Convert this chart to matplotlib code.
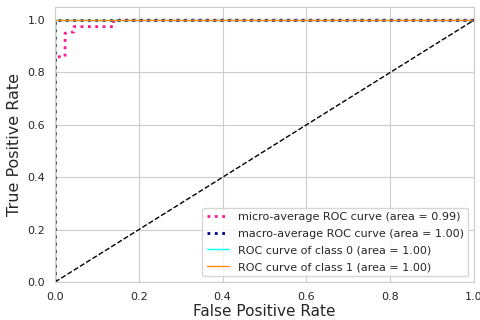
import matplotlib
matplotlib.use("Agg")
import matplotlib.pyplot as plt
import seaborn as sns

sns.set_style("whitegrid")
plt.rcParams['font.family'] = ['DejaVu Sans']

# micro-average ROC curve points
micro_fpr = [0.0, 0.0, 0.024, 0.024, 0.045, 0.045, 0.14, 0.14, 1.0]
micro_tpr = [0.0, 0.86, 0.86, 0.95, 0.955, 0.975, 0.975, 1.0, 1.0]
micro_auc = 0.99

macro_fpr = [0.0, 0.0, 1.0]
macro_tpr = [0.0, 1.0, 1.0]
macro_auc = 1.00

class_fpr = [[0.0, 0.0, 1.0], [0.0, 0.0, 1.0]]
class_tpr = [[0.0, 1.0, 1.0], [0.0, 1.0, 1.0]]
class_auc = [1.00, 1.00]
class_colors = ['aqua', 'darkorange']

fig = plt.figure(figsize=(4.8, 3.2), dpi=100)
ax = fig.add_axes([55/480, 38/320, 419/480, 275/320])

ax.plot(micro_fpr, micro_tpr, color='deeppink', linestyle=':', linewidth=2,
        label='micro-average ROC curve (area = {0:0.2f})'.format(micro_auc))
ax.plot(macro_fpr, macro_tpr, color='navy', linestyle=':', linewidth=2,
        label='macro-average ROC curve (area = {0:0.2f})'.format(macro_auc))
for i in range(2):
    ax.plot(class_fpr[i], class_tpr[i], color=class_colors[i], linewidth=1,
            label='ROC curve of class {0} (area = {1:0.2f})'.format(i, class_auc[i]))
ax.plot([0, 1], [0, 1], 'k--', linewidth=1)

ax.set_xlim([0.0, 1.0])
ax.set_ylim([0.0, 1.05])
ax.tick_params(labelsize=8)
ax.set_xlabel('False Positive Rate', fontsize=11, labelpad=2)
ax.set_ylabel('True Positive Rate', fontsize=11.5)
ax.legend(loc='lower right', fontsize=8, labelspacing=0.6)

fig.savefig('out.png', dpi=100)
